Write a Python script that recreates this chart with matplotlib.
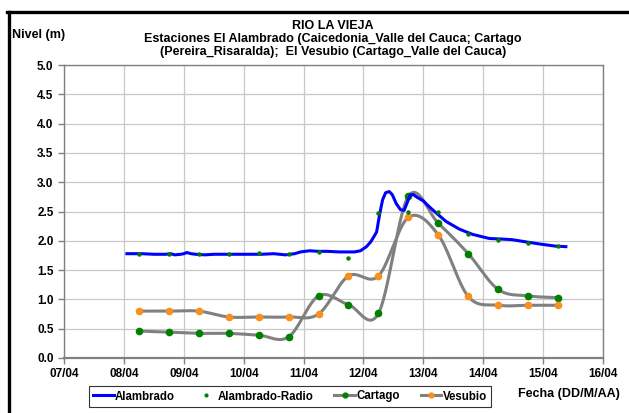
import numpy as np
import matplotlib
matplotlib.use('Agg')
import matplotlib.pyplot as plt
from matplotlib.lines import Line2D

plt.rcParams['font.family'] = ['Liberation Sans', 'DejaVu Sans']
plt.rcParams['font.weight'] = 'bold'

# days counted from 07/04 (7.0 = 07/04 00:00)
day_ticks = [7, 8, 9, 10, 11, 12, 13, 14, 15, 16]
day_labels = ['07/04', '08/04', '09/04', '10/04', '11/04', '12/04', '13/04',
              '14/04', '15/04', '16/04']

# Alambrado (continuous record)
alam_t = [8.05, 8.3, 8.5, 8.7, 8.78, 8.85, 8.95, 9.0, 9.05, 9.12, 9.2, 9.35,
          9.5, 9.7, 10.0, 10.3, 10.5, 10.7, 10.85, 10.95, 11.1, 11.25, 11.4,
          11.6, 11.85, 11.95, 12.05, 12.12, 12.18, 12.22, 12.27, 12.32, 12.37,
          12.43, 12.48, 12.55, 12.62, 12.68, 12.73, 12.78, 12.83, 12.9, 13.0,
          13.1, 13.22, 13.38, 13.6, 13.82, 14.1, 14.3, 14.48, 14.72, 14.98,
          15.2, 15.38]
alam_v = [1.78, 1.78, 1.77, 1.77, 1.78, 1.76, 1.77, 1.78, 1.80, 1.78, 1.77,
          1.76, 1.77, 1.77, 1.77, 1.77, 1.78, 1.76, 1.78, 1.81, 1.83, 1.82,
          1.82, 1.81, 1.81, 1.83, 1.90, 1.98, 2.08, 2.15, 2.45, 2.70, 2.82,
          2.84, 2.79, 2.63, 2.53, 2.52, 2.65, 2.78, 2.79, 2.74, 2.68, 2.58,
          2.47, 2.33, 2.20, 2.11, 2.04, 2.03, 2.02, 1.98, 1.94, 1.91, 1.90]

# twice-daily readings (06:00 and 18:00)
obs_t = [8.25, 8.75, 9.25, 9.75, 10.25, 10.75, 11.25, 11.75, 12.25, 12.75,
         13.25, 13.75, 14.25, 14.75, 15.25]
radio_v = [1.77, 1.77, 1.77, 1.77, 1.79, 1.78, 1.81, 1.71, 2.47, 2.50,
           2.50, 2.12, 2.01, 1.97, 1.91]
cartago_v = [0.46, 0.44, 0.42, 0.42, 0.39, 0.36, 1.06, 0.91, 0.76, 2.76,
             2.30, 1.78, 1.17, 1.06, 1.03]
vesubio_v = [0.80, 0.80, 0.80, 0.70, 0.70, 0.70, 0.75, 1.40, 1.40, 2.40,
             2.10, 1.05, 0.90, 0.90, 0.90]


def smooth(x, y, n=30):
    # Catmull-Rom curve, like Excel's smoothed line
    x = np.asarray(x, float)
    y = np.asarray(y, float)
    px = np.concatenate([[x[0]], x, [x[-1]]])
    py = np.concatenate([[y[0]], y, [y[-1]]])
    t = np.linspace(0, 1, n, endpoint=False)
    xs, ys = [], []
    for i in range(1, len(px) - 2):
        for p, out in ((px, xs), (py, ys)):
            p0, p1, p2, p3 = p[i - 1], p[i], p[i + 1], p[i + 2]
            m1 = (p2 - p0) / 2
            m2 = (p3 - p1) / 2
            h00 = 2 * t**3 - 3 * t**2 + 1
            h10 = t**3 - 2 * t**2 + t
            h01 = -2 * t**3 + 3 * t**2
            h11 = t**3 - t**2
            out.extend(h00 * p1 + h10 * m1 + h01 * p2 + h11 * m2)
    xs.append(x[-1])
    ys.append(y[-1])
    return np.array(xs), np.array(ys)


fig = plt.figure(figsize=(6.29, 4.13), dpi=100)
ax = fig.add_axes([64 / 629, 1 - 358 / 413, (603 - 64) / 629, (358 - 65) / 413])

gray = '#808080'
green = '#008000'
orange = '#F7901E'

cx, cy = smooth(obs_t, cartago_v)
vx, vy = smooth(obs_t, vesubio_v)
ax.plot(cx, cy, color=gray, lw=2.2, zorder=3)
ax.plot(vx, vy, color=gray, lw=2.2, zorder=3)
ax.plot(obs_t, cartago_v, 'o', color=green, ms=4.5, zorder=4)
ax.plot(obs_t, vesubio_v, 'o', color=orange, ms=4.5, zorder=4)
ax.plot(alam_t, alam_v, color='#0000FF', lw=2.2, zorder=5)
ax.plot(obs_t, radio_v, 'o', color=green, ms=2.2, zorder=6)

ax.set_xlim(7, 16)
ax.set_ylim(0, 5)
ax.set_xticks(day_ticks)
ax.set_xticklabels(day_labels)
ax.set_yticks(np.arange(0, 5.01, 0.5))
ax.set_yticklabels(['%.1f' % v for v in np.arange(0, 5.01, 0.5)])
ax.tick_params(labelsize=8.5, length=4, color=gray, width=1)
ax.grid(True, color='#c8c8c8', lw=0.9)
ax.set_axisbelow(True)
for s in ax.spines.values():
    s.set_color(gray)
    s.set_linewidth(1.0)
ax.spines['bottom'].set_linewidth(1.6)

fig.text(12 / 629, 1 - 35 / 413, 'Nivel (m)', fontsize=9, fontweight='bold',
         va='center', ha='left')
fig.text(333 / 629, 1 - 39 / 413,
         'RIO LA VIEJA\nEstaciones El Alambrado (Caicedonia_Valle del Cauca; Cartago\n'
         '(Pereira_Risaralda);  El Vesubio (Cartago_Valle del Cauca)',
         fontsize=9, fontweight='bold', ha='center', va='center',
         multialignment='center', linespacing=1.12)
fig.text(518 / 629, 1 - 394 / 413, 'Fecha (DD/M/AA)', fontsize=9,
         fontweight='bold', ha='left', va='center')

handles = [
    Line2D([], [], color='#0000FF', lw=2.2),
    Line2D([], [], ls='none', marker='o', color=green, ms=2),
    Line2D([], [], color=gray, lw=2.2, marker='o', mfc=green, mec=green, ms=3.5),
    Line2D([], [], color=gray, lw=2.2, marker='o', mfc=orange, mec=orange, ms=3.5),
]
leg = fig.legend(handles, ['Alambrado', 'Alambrado-Radio', 'Cartago', 'Vesubio'],
                 loc='center', bbox_to_anchor=(290 / 629, 1 - 396.5 / 413),
                 ncol=4, fontsize=8.3, frameon=True, fancybox=False,
                 edgecolor='black', handlelength=1.8, handletextpad=0.1,
                 columnspacing=1.8, borderpad=0.35)
leg.get_frame().set_linewidth(0.8)

# outer chart frame (only left and top edges fall inside the picture)
fig.add_artist(Line2D([8.5 / 629, 8.5 / 629], [0, 1 - 11.5 / 413],
                      transform=fig.transFigure, color='black', lw=2.4))
fig.add_artist(Line2D([7.3 / 629, 1], [1 - 11.5 / 413, 1 - 11.5 / 413],
                      transform=fig.transFigure, color='black', lw=2.4))

fig.savefig('out.png', dpi=100)
